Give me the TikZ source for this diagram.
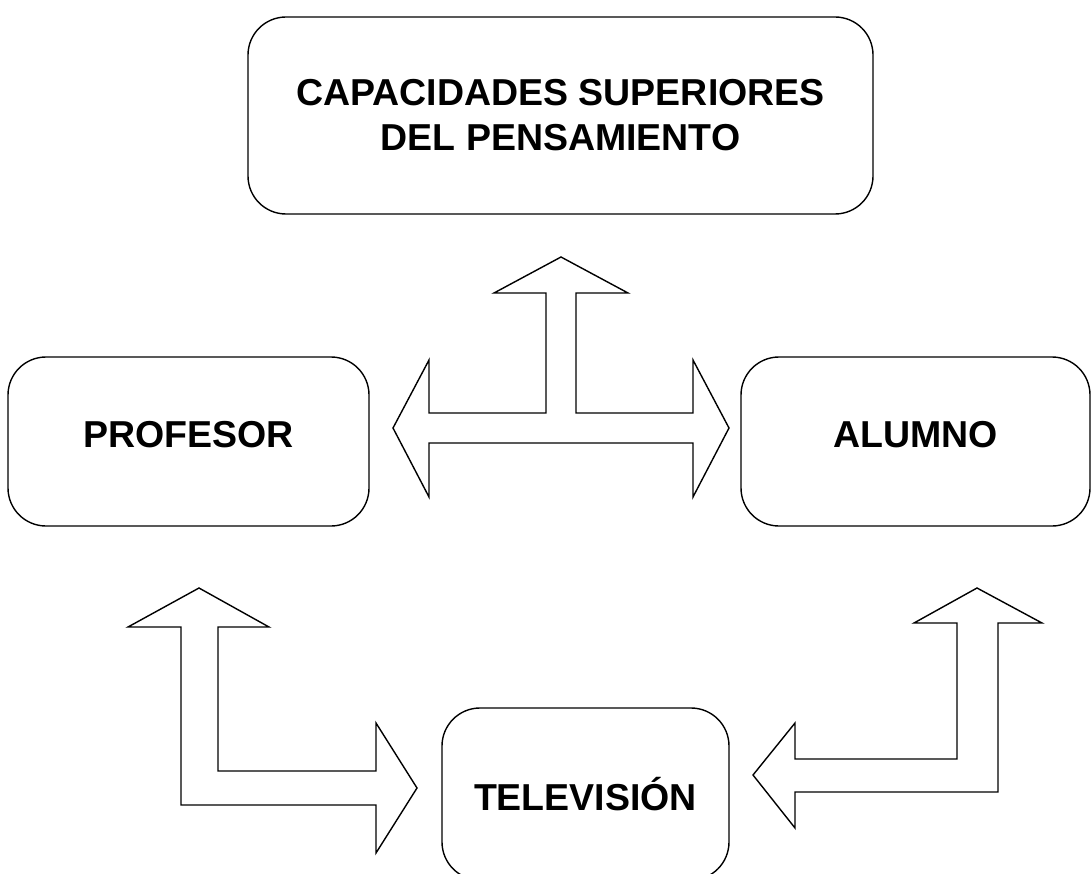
\documentclass[tikz,border=0pt]{standalone}
\usepackage{fontspec}
\setmainfont{Liberation Sans}
\usepackage{tikz}
\usetikzlibrary{positioning}

\begin{document}
\begin{tikzpicture}[x=1pt, y=-1pt,
        box/.style={draw, line width=1.4pt, rounded corners=38pt, align=center,
            font=\bfseries\fontsize{37.5}{45}\selectfont, inner sep=0pt},
        blk/.style={draw, line width=1.4pt, line join=miter}]
        \useasboundingbox (0,0) rectangle (1091,874);
        \clip (0,0) rectangle (1091,874);

        \node[box, minimum width=625pt, minimum height=197pt] (cap) at (560.5, 115.5) {CAPACIDADES SUPERIORES\\DEL PENSAMIENTO};
        \node[box, minimum width=361pt, minimum height=169pt, text depth=14pt] (prof) at (188.5, 441.5) {PROFESOR};
        \node[box, minimum width=349pt, minimum height=169pt, text depth=14pt] (alum) at (915.5, 441.5) {ALUMNO};
        \node[box, minimum width=287pt, minimum height=172pt] (tele) at (585.5, 794) {TELEVISIÓN};

        % flecha central
        \draw[blk] (561,257) -- (628,293) -- (576,293) -- (576,413) -- (693,413) -- (693,360)
            -- (729,428) -- (693,497) -- (693,443) -- (429,443) -- (429,497) -- (393,428)
            -- (429,360) -- (429,413) -- (546,413) -- (546,293) -- (494,293) -- cycle;
        % flecha izquierda
        \draw[blk] (199,588) -- (269,627) -- (218,627) -- (218,771) -- (376,771) -- (376,723)
            -- (417,788) -- (376,853) -- (376,805) -- (181,805) -- (181,627) -- (128,627) -- cycle;
        % flecha derecha
        \draw[blk] (977,588) -- (1042,623) -- (998,623) -- (998,792) -- (795,792) -- (795,828)
            -- (753,775) -- (795,723) -- (795,759) -- (957,759) -- (957,623) -- (914,623) -- cycle;
    \end{tikzpicture}
\end{document}
